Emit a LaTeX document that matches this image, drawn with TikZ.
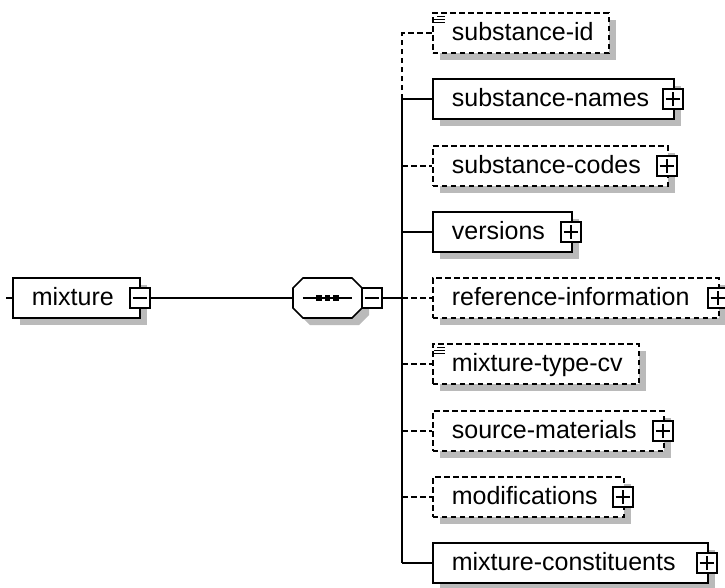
\documentclass[tikz,border=0pt]{standalone}
\usepackage{fontspec}
\setmainfont{Liberation Sans}
\usetikzlibrary{shadows}

\tikzset{
  schema/.style={line width=1.7pt},
  boxshadow/.style={drop shadow={shadow xshift=7pt, shadow yshift=-7pt, fill=black!27, opacity=1}},
  reqbox/.style={schema, draw, fill=white, boxshadow, anchor=west, minimum height=40pt,
    inner xsep=19pt, inner ysep=0pt, text height=18pt, text depth=4pt,
    font=\fontsize{25}{28}\selectfont},
  optbox/.style={reqbox, dash pattern=on 5.5pt off 3.5pt},
  reqline/.style={schema},
  optline/.style={schema, dash pattern=on 5.5pt off 3.5pt},
  expander/.style={schema, draw, fill=white, minimum size=20pt, inner sep=0pt},
  minus/.style={expander, path picture={
    \draw[schema] ([xshift=-7pt]path picture bounding box.center) -- ([xshift=7pt]path picture bounding box.center);}},
  plus/.style={expander, path picture={
    \draw[schema] ([xshift=-7pt]path picture bounding box.center) -- ([xshift=7pt]path picture bounding box.center)
      ([yshift=-7pt]path picture bounding box.center) -- ([yshift=7pt]path picture bounding box.center);}},
}

\begin{document}
\begin{tikzpicture}[x=1pt, y=-1pt]
\useasboundingbox (0,0) rectangle (725,587);

% Root element
\node[reqbox] (mixture) at (12,298) {\makebox[89pt][l]{mixture}};
\node[minus] (mixture-exp) at ([xshift=-1pt]mixture.east) {};
\coordinate (stub) at (6,298);
\draw[schema] (stub) -- (mixture.west);

% Sequence compositor
\draw[schema, fill=white, boxshadow]
    (293,288) -- (303,278) -- (352,278) -- (362,288) --
    (362,308) -- (352,318) -- (303,318) -- (293,308) -- cycle;
\node[inner sep=0pt, minimum width=69pt, minimum height=40pt] (seq) at (327.5,298) {};
\draw[schema] ([xshift=10pt]seq.west) -- ([xshift=-10pt]seq.east);
\foreach \dx in {-8.5,0,8.5}
    \fill ([xshift=\dx pt]seq.center) +(-2.8,-2.8) rectangle +(2.8,2.8);
\node[minus] (seq-exp) at ([xshift=10pt]seq.east) {};
\draw[schema] (mixture-exp.east) -- (seq.west);

% Child elements
\foreach \nm/\row/\w/\txt/\kind in {
    sid/0/176/substance-id/optbox,
    names/1/241/substance-names/reqbox,
    codes/2/235/substance-codes/optbox,
    versions/3/139/versions/reqbox,
    refinfo/4/286/reference-information/optbox,
    typecv/5/206/mixture-type-cv/optbox,
    srcmat/6/231/source-materials/optbox,
    mods/7/191/modifications/optbox,
    constit/8/275/mixture-constituents/reqbox} {
    % row position and text width
    \pgfmathsetmacro{\yc}{round(33+66.25*\row)}
    \pgfmathsetmacro{\tw}{\w-38}
    \node[\kind] (\nm) at (432,\yc) {\makebox[\tw pt][l]{\txt}};
}

% Expand buttons
\foreach \nm in {names,codes,versions,refinfo,srcmat,mods,constit}
    \node[plus] (\nm-exp) at ([xshift=-2pt]\nm.east) {};

% Simple content markers
\foreach \nm in {sid,typecv} {
    \draw[line width=1.3pt] ([xshift=5pt,yshift=-4pt]\nm.north west) -- ++(8,0);
    \draw[line width=1.3pt] ([xshift=2pt,yshift=-7pt]\nm.north west) -- ++(11,0);
    \draw[line width=1.3pt] ([xshift=2pt,yshift=-10pt]\nm.north west) -- ++(11,0);
}

% Connectors
\coordinate (trunk) at (402,298);
\draw[schema] (seq-exp.east) -- (trunk);
\draw[schema] (names.west -| trunk) -- (constit.west -| trunk);
\draw[optline] (names.west -| trunk) |- (sid.west);
\foreach \nm/\ln in {names/reqline, codes/optline, versions/reqline, refinfo/optline,
    typecv/optline, srcmat/optline, mods/optline, constit/reqline}
    \draw[\ln] (\nm.west -| trunk) -- (\nm.west);

\end{tikzpicture}
\end{document}
